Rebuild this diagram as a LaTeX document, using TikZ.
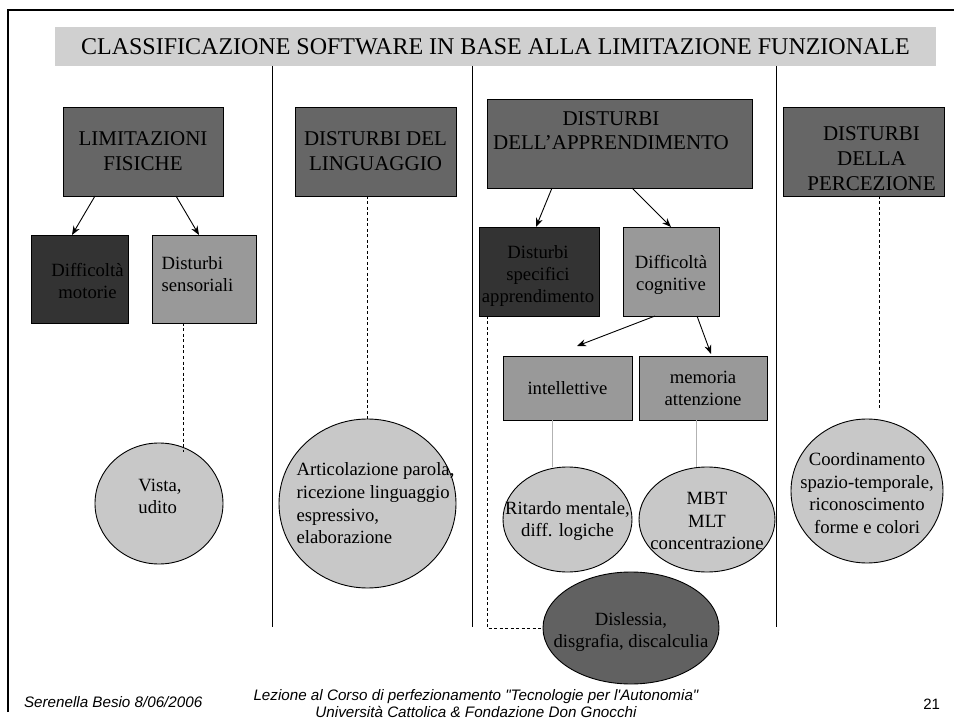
\documentclass[tikz,border=0pt]{standalone}
\usepackage{fontspec}
\setmainfont{Liberation Serif}
\newfontfamily\footfont{Liberation Sans}
\usetikzlibrary{arrows.meta,shapes.geometric}

\definecolor{barfill}{gray}{0.816}
\definecolor{boxdark}{gray}{0.40}
\definecolor{boxdeep}{gray}{0.20}
\definecolor{boxmid}{gray}{0.60}
\definecolor{ovallight}{gray}{0.784}
\definecolor{ovaldark}{gray}{0.38}
\definecolor{stemgray}{gray}{0.70}

\begin{document}
\begin{tikzpicture}[x=1pt,y=-1pt,
  every node/.style={inner sep=0pt, outer sep=0pt},
  headfont/.style={font=\fontsize{21pt}{25pt}\selectfont},
  subfont/.style={font=\fontsize{18.7pt}{22pt}\selectfont},
  box/.style={draw=black, line width=0.9pt, rectangle, align=center},
  headbox/.style={box, fill=boxdark, headfont},
  subbox/.style={box, subfont},
  oval/.style={draw=black, line width=0.9pt, ellipse, fill=ovallight},
  ovaltext/.style={align=center, font=\fontsize{18.7pt}{22.6pt}\selectfont},
  headtext/.style={align=center, headfont},
  subtext/.style={align=center, subfont},
  arr/.style={line width=0.9pt, -{Stealth[length=9pt,width=7pt]}},
  dashlink/.style={line width=0.9pt, dash pattern=on 3pt off 2.5pt},
  stem/.style={line width=0.9pt, draw=stemgray},
  divider/.style={line width=1pt},
  foot/.style={font=\footfont\itshape\fontsize{15.2pt}{17pt}\selectfont}
]
\useasboundingbox (0,0) rectangle (954,722);

% slide frame
\draw[line width=2.5pt, line join=miter] (8,712) -- (8,10) -- (954,10);

% title bar
\node[fill=barfill, minimum width=881pt, minimum height=39pt,
      font=\fontsize{24pt}{28pt}\selectfont] (title) at (495.5,46.5)
  {CLASSIFICAZIONE SOFTWARE IN BASE ALLA LIMITAZIONE FUNZIONALE};

% column dividers
\coordinate (d1) at (272,627);
\coordinate (d2) at (472,627);
\coordinate (d3) at (776,627);
\foreach \d in {d1,d2,d3} \draw[divider] (\d |- title.south) -- (\d);

% column 1: physical limitations
\node[headbox, minimum width=160pt, minimum height=89pt] (lf) at (143,151.5)
  {LIMITAZIONI\\FISICHE};
\node[subbox, fill=boxdeep, minimum width=97pt, minimum height=88pt,
      label={[subtext, xshift=8pt, yshift=-2pt]center:Difficoltà\\motorie}] (dm) at (79.5,279) {};
\node[subbox, fill=boxmid, minimum width=104pt, minimum height=88pt,
      label={[subtext, align=left, xshift=-6.5pt, yshift=5pt]center:Disturbi\\sensoriali}] (ds) at (204,279) {};
\node[oval, minimum width=128pt, minimum height=121pt,
      label={[ovaltext, align=left, xshift=1pt, yshift=7pt]center:Vista,\\udito}] (vu) at (159,503.5) {};

% column 2: language disorders
\node[headbox, minimum width=161pt, minimum height=89pt] (dl) at (375.5,151.5)
  {DISTURBI DEL\\LINGUAGGIO};
\node[oval, minimum width=177pt, minimum height=169pt,
      label={[ovaltext, align=left, xshift=8pt]center:Articolazione parola,\\ricezione linguaggio\\espressivo,\\elaborazione}] (ar) at (367.5,503.5) {};

% column 3: learning disorders
\node[headbox, minimum width=265pt, minimum height=89pt,
      label={[headtext, font=\fontsize{21pt}{24pt}\selectfont, xshift=-8.5pt, yshift=13pt]center:DISTURBI\\DELL’APPRENDIMENTO}] (da) at (619.5,143.5) {};
\node[subbox, fill=boxdeep, minimum width=120pt, minimum height=89pt,
      label={[subtext, xshift=-1pt, yshift=-5pt]center:Disturbi\\specifici\\apprendimento}] (dsa) at (539,271.5) {};
\node[subbox, fill=boxmid, minimum width=96pt, minimum height=89pt,
      label={[subtext, yshift=-3pt]center:Difficoltà\\cognitive}] (dc) at (671,271.5) {};
\node[subbox, fill=boxmid, minimum width=129pt, minimum height=64pt] (in) at (567.5,388)
  {intellettive};
\node[subbox, fill=boxmid, minimum width=128pt, minimum height=64pt] (ma) at (703,388)
  {memoria\\attenzione};
\node[oval, minimum width=129pt, minimum height=105pt,
      label={[ovaltext, yshift=-1.5pt]center:Ritardo mentale,\\diff. logiche}] (rm) at (567.5,519.5) {};
\node[oval, minimum width=136pt, minimum height=105pt,
      label={[ovaltext, yshift=-1.5pt]center:MBT\\MLT\\concentrazione}] (mb) at (707,519.5) {};
\node[oval, fill=ovaldark, minimum width=176pt, minimum height=112pt,
      label={[ovaltext, yshift=-4pt]center:Dislessia,\\disgrafia, discalculia}] (dd) at (631,628) {};

% column 4: perception disorders
\node[headbox, minimum width=161pt, minimum height=89pt,
      label={[headtext, xshift=8pt, yshift=-7.5pt]center:DISTURBI\\DELLA\\PERCEZIONE}] (dp) at (863.5,151.5) {};
\node[oval, minimum width=152pt, minimum height=144pt,
      label={[ovaltext, yshift=-2pt]center:Coordinamento\\spazio-temporale,\\riconoscimento\\forme e colori}] (co) at (867,491) {};

% arrows
\draw[arr] ([xshift=32pt]lf.south west) -- ([xshift=41pt]dm.north west);
\draw[arr] ([xshift=113pt]lf.south west) -- ([xshift=47pt]ds.north west);
\draw[arr] ([xshift=65pt]da.south west) -- ([xshift=57pt]dsa.north west);
\draw[arr] ([xshift=145pt]da.south west) -- ([xshift=48pt]dc.north west);
\draw[arr] ([xshift=32pt]dc.south west) -- ([xshift=74pt,yshift=10pt]in.north west);
\draw[arr] ([xshift=74pt]dc.south west) -- ([xshift=72pt,yshift=2pt]ma.north west);

% dashed links
\draw[dashlink] ([xshift=31pt]ds.south west) -- ([xshift=24pt,yshift=-9pt]vu.north);
\draw[dashlink] (ar.north |- dl.south) -- (ar.north);
\draw[dashlink] ([xshift=15.5pt]dp.south) -- ([xshift=12pt,yshift=9pt]co.north);
\draw[dashlink] ([xshift=8pt]dsa.south west) |- (dd.west);

% light stems
\draw[stem] ([xshift=-15.5pt]in.south) -- ([xshift=-15.5pt]rm.north);
\draw[stem] ([xshift=-7pt]ma.south) -- ([xshift=-11pt]mb.north);

% footer
\node[foot, anchor=base west] (author) at (24,707) {Serenella Besio 8/06/2006};
\node[foot, align=center] (course) at (476,704)
  {Lezione al Corso di perfezionamento "Tecnologie per l'Autonomia"\\Università Cattolica \& Fondazione Don Gnocchi};
\node[font=\footfont\fontsize{15pt}{18pt}\selectfont, anchor=base east] (page) at (940,709) {21};
\end{tikzpicture}
\end{document}
